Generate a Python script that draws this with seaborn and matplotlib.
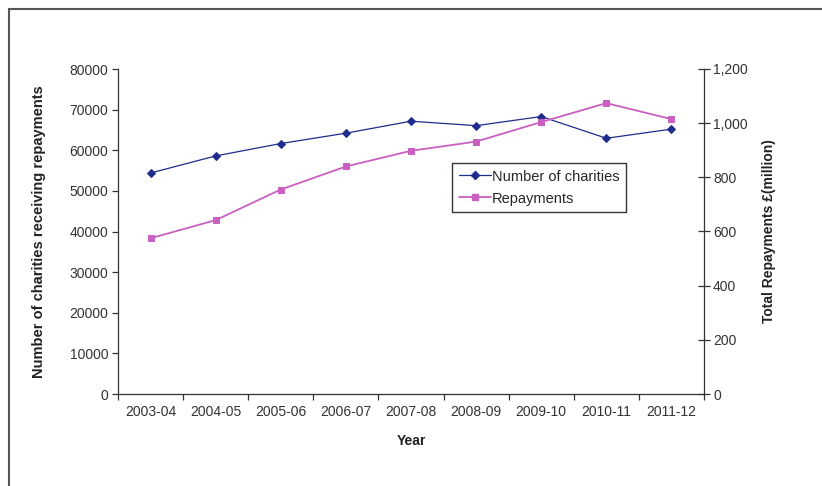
import matplotlib
matplotlib.use("Agg")
import matplotlib.pyplot as plt
from matplotlib.lines import Line2D
from matplotlib.ticker import FixedLocator, FuncFormatter
import seaborn as sns
import pandas as pd
import numpy as np

years = ["2003-04", "2004-05", "2005-06", "2006-07", "2007-08",
         "2008-09", "2009-10", "2010-11", "2011-12"]
charities = [54400, 58600, 61650, 64200, 67150, 66050, 68300, 62950, 65200]
repayments = [575, 642, 755, 840, 898, 932, 1004, 1074, 1015]

sns.set_theme(style="white")
plt.rcParams['font.family'] = ['Liberation Sans', 'DejaVu Sans']

df = pd.DataFrame({"Year": years, "Charities": charities, "Repayments": repayments})
df["pos"] = np.arange(len(years))

fig = plt.figure(figsize=(8.22, 4.86), dpi=100)
ax = fig.add_axes([118/822, 1-394/486, (704-118)/822, (394-69)/486])
ax2 = ax.twinx()

navy = "#1f2d8c"
pink = "#c95fc0"
tick_color = "#333333"

sns.lineplot(data=df, x="pos", y="Charities", ax=ax, color=navy, marker="D",
             markersize=4.5, markeredgecolor=navy, linewidth=0.9, label="Number of charities",
             legend=False)
sns.lineplot(data=df, x="pos", y="Repayments", ax=ax2, color=pink, marker="s",
             markersize=5, markeredgecolor=pink, linewidth=1.3, label="Repayments",
             legend=False)

ax.set_xlim(-0.5, len(years) - 0.5)
ax.set_ylim(0, 80000)
ax2.set_ylim(0, 1200)
ax.set_yticks(np.arange(0, 80001, 10000))
ax.set_yticklabels([str(v) for v in range(0, 80001, 10000)])
ax2.set_yticks(np.arange(0, 1201, 200))
ax2.yaxis.set_major_formatter(FuncFormatter(lambda v, p: f"{int(v):,}"))

ax.xaxis.set_major_locator(FixedLocator(np.arange(-0.5, len(years), 1.0)))
ax.xaxis.set_minor_locator(FixedLocator(np.arange(len(years))))
ax.set_xticklabels([""] * (len(years) + 1))
ax.set_xticklabels(years, minor=True)
ax.tick_params(axis="x", which="major", direction="out", length=4, width=0.9,
               color="#333333", bottom=True)
ax.tick_params(axis="x", which="minor", length=0, pad=8, labelsize=10, labelcolor=tick_color)
ax.tick_params(axis="y", direction="out", length=4, width=0.9, color="#333333",
               left=True, labelsize=10, labelcolor=tick_color, pad=3)
ax2.tick_params(axis="y", direction="inout", length=9, width=0.9, color="#333333",
                right=True, labelsize=10, labelcolor=tick_color, pad=2)

for a in (ax, ax2):
    a.spines["top"].set_visible(False)
    for s in ["left", "right", "bottom"]:
        a.spines[s].set_color("#333333")
        a.spines[s].set_linewidth(0.9)
ax.spines["right"].set_visible(False)
ax2.spines["left"].set_visible(False)
ax2.spines["bottom"].set_visible(False)

ax.set_xlabel("Year", fontsize=10, fontweight="bold", labelpad=11, color="#222222")
ax.set_ylabel("Number of charities receiving repayments", fontsize=10.5,
              fontweight="bold", labelpad=17, color="#222222")
ax2.set_ylabel("Total Repayments £(million)", fontsize=10, fontweight="bold",
               labelpad=10, color="#222222")

handles = [Line2D([], [], color=navy, marker="D", markersize=4.5, linewidth=0.9),
           Line2D([], [], color=pink, marker="s", markersize=5, linewidth=1.3)]
leg = ax2.legend(handles, ["Number of charities", "Repayments"], loc="upper left",
                 bbox_to_anchor=((452-118)/586, (394-163)/325), fontsize=10.5,
                 frameon=True, fancybox=False, handlelength=2.2, handletextpad=0.1,
                 borderpad=0.45, labelspacing=0.55, borderaxespad=0)
leg.get_frame().set_edgecolor("black")
leg.get_frame().set_linewidth(1.0)

fig.add_artist(Line2D([9/822, 1], [1-9/486, 1-9/486], color="#555555", linewidth=1.5,
                      transform=fig.transFigure))
fig.add_artist(Line2D([9/822, 9/822], [0, 1-9/486], color="#555555", linewidth=1.5,
                      transform=fig.transFigure))

fig.savefig("out.png", dpi=100)
